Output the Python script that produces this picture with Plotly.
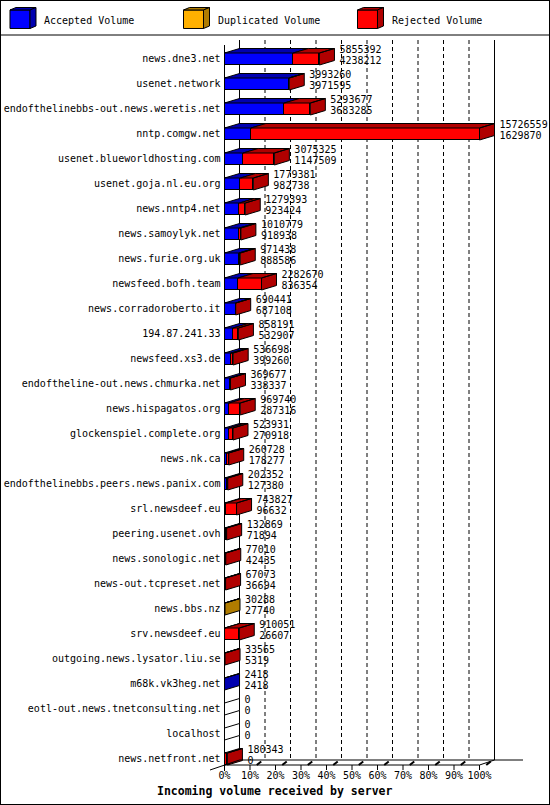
import plotly.graph_objects as go

# ── Data ──────────────────────────────────────────────────────────────────────
SERVERS = [
    "news.dne3.net", "usenet.network", "endofthelinebbs-out.news.weretis.net",
    "nntp.comgw.net", "usenet.blueworldhosting.com", "usenet.goja.nl.eu.org",
    "news.nntp4.net", "news.samoylyk.net", "news.furie.org.uk",
    "newsfeed.bofh.team", "news.corradoroberto.it", "194.87.241.33",
    "newsfeed.xs3.de", "endoftheline-out.news.chmurka.net", "news.hispagatos.org",
    "glockenspiel.complete.org", "news.nk.ca", "endofthelinebbs.peers.news.panix.com",
    "srl.newsdeef.eu", "peering.usenet.ovh", "news.sonologic.net",
    "news-out.tcpreset.net", "news.bbs.nz", "srv.newsdeef.eu",
    "outgoing.news.lysator.liu.se", "m68k.vk3heg.net", "eotl-out.news.tnetconsulting.net",
    "localhost", "news.netfront.net",
]
TOTAL = [
    5855392, 3993260, 5293677, 15726559, 3075325, 1779381, 1279393, 1010779,
    971438, 2282670, 690441, 858191, 536698, 369677, 969740, 523931, 260728,
    202352, 743827, 132869, 77010, 67073, 30288, 910051, 33565, 2418, 0, 0, 180343,
]
ACCEPTED = [
    4238212, 3971595, 3683285, 1629870, 1147509, 982738, 923424, 918938,
    888586, 836354, 687108, 532907, 399260, 338337, 287316, 270918, 178277,
    127380, 96632, 71894, 42435, 36694, 27740, 26607, 5319, 2418, 0, 0, 0,
]
DUPLICATED = [0] * 22 + [2548] + [0] * 6
REJECTED = [t - a - d for t, a, d in zip(TOTAL, ACCEPTED, DUPLICATED)]
PCT_TICKS = [0, 10, 20, 30, 40, 50, 60, 70, 80, 90, 100]
PCT_LABELS = [f"{p}%" for p in PCT_TICKS]

# ── Geometry / style ─────────────────────────────────────────────────────────
W, H = 550, 805
X0, SX = 224.5, 2.55      # pixel of 0 %, pixels per %
Y0, ROW = 59, 25          # pixel of first row centre, pixels per row
DX = 15 / SX              # 3D depth in % units
DY = -4.5 / ROW           # 3D depth in row units (up)
BAR_H = 12 / ROW
FONT = "DejaVu Sans Mono"

SERIES = [
    ("Accepted Volume", ACCEPTED, "#0000ff", "#0000b0"),
    ("Duplicated Volume", DUPLICATED, "#ffb000", "#b07c00"),
    ("Rejected Volume", REJECTED, "#ff0000", "#b00000"),
]

def xp(px):
    return (px - X0) / SX

def yr(py):
    return (py - Y0) / ROW

def add_poly(xs, ys, pts):
    for x, y in pts + [pts[0]]:
        xs.append(x)
        ys.append(y)
    xs.append(None)
    ys.append(None)

vmax = max(TOTAL)
rows = list(range(len(SERVERS)))

fig = go.Figure()

# Front faces
for name, vals, front, dark in SERIES:
    fig.add_trace(go.Bar(
        x=[v / vmax * 100 for v in vals], y=rows, orientation="h",
        width=BAR_H, marker=dict(color=front, line=dict(color="black", width=1)),
        name=name, showlegend=False, cliponaxis=False,
    ))

# Top and side faces
faces = {}
for i in rows:
    yt, yb = i - BAR_H / 2, i + BAR_H / 2
    start, last_dark = 0.0, "#ffffff"
    for name, vals, front, dark in SERIES:
        w = vals[i] / vmax * 100
        if w <= 0:
            continue
        xs, ys = faces.setdefault(dark, ([], []))
        add_poly(xs, ys, [(start, yt), (start + w, yt), (start + w + DX, yt + DY), (start + DX, yt + DY)])
        start += w
        last_dark = dark
    xs, ys = faces.setdefault(last_dark, ([], []))
    add_poly(xs, ys, [(start, yt), (start + DX, yt + DY), (start + DX, yb + DY), (start, yb)])

for color, (xs, ys) in faces.items():
    fig.add_trace(go.Scatter(
        x=xs, y=ys, mode="lines", fill="toself", fillcolor=color,
        line=dict(color="black", width=1), hoverinfo="skip", showlegend=False,
    ))

# Value labels: total on top, accepted below
ends = [t / vmax * 100 + DX + 5 / SX for t in TOTAL]
fig.add_trace(go.Scatter(
    x=ends, y=[i - 9 / ROW for i in rows], mode="text", text=[str(v) for v in TOTAL],
    textposition="middle right", textfont=dict(family=FONT, size=10, color="black"),
    cliponaxis=False, showlegend=False, hoverinfo="skip",
))
fig.add_trace(go.Scatter(
    x=ends, y=[i + 2 / ROW for i in rows], mode="text", text=[str(v) for v in ACCEPTED],
    textposition="middle right", textfont=dict(family=FONT, size=10, color="black"),
    cliponaxis=False, showlegend=False, hoverinfo="skip",
))

# Server names
fig.add_trace(go.Scatter(
    x=[xp(220.5)] * len(SERVERS), y=rows, mode="text", text=SERVERS,
    textposition="middle left", textfont=dict(family=FONT, size=10, color="black"),
    cliponaxis=False, showlegend=False, hoverinfo="skip",
))

# Percentage axis labels
fig.add_trace(go.Scatter(
    x=PCT_TICKS, y=[yr(776)] * len(PCT_TICKS), mode="text", text=PCT_LABELS,
    textposition="middle center", textfont=dict(family=FONT, size=10, color="black"),
    cliponaxis=False, showlegend=False, hoverinfo="skip",
))

# Walls, floor and grid
shapes = []
line = dict(color="black", width=1)
for p in PCT_TICKS[1:-1]:
    shapes.append(dict(type="line", x0=p + DX, x1=p + DX, y0=yr(40), y1=yr(760),
                       line=dict(color="black", width=1, dash="4px,3px"), layer="below"))
for p in PCT_TICKS[1:]:
    shapes.append(dict(type="line", x0=p, x1=p, y0=yr(765), y1=yr(770), line=line))
    shapes.append(dict(type="line", x0=p + DX * 0.45, x1=p + DX * 0.75, y0=yr(765), y1=yr(761.5), line=dict(color="black", width=2)))
shapes += [
    dict(type="line", x0=DX, x1=DX, y0=yr(40), y1=yr(760), line=line, layer="below"),
    dict(type="line", x0=100 + DX, x1=100 + DX, y0=yr(40), y1=yr(760), line=line, layer="below"),
    dict(type="line", x0=0, x1=0, y0=yr(45), y1=yr(771), line=line),
    dict(type="line", x0=DX, x1=xp(523), y0=yr(760), y1=yr(760), line=line),
    dict(type="line", x0=0, x1=100, y0=yr(765), y1=yr(765), line=line),
    dict(type="line", x0=100, x1=100 + DX, y0=yr(765), y1=yr(760), line=line),
    dict(type="line", x0=xp(210), x1=DX, y0=yr(770), y1=yr(760), line=line),
]
for s in shapes:
    s.setdefault("xref", "x")
    s.setdefault("yref", "y")

# Frame and legend (paper coords = pixels)
def pp(x, y):
    return x / W, 1 - y / H

def paper_path(pts):
    d = "M " + " L ".join(f"{x / W:.5f},{1 - y / H:.5f}" for x, y in pts) + " Z"
    return d

shapes.append(dict(type="rect", xref="paper", yref="paper", x0=0, x1=1, y0=0, y1=1,
                   line=dict(color="black", width=2)))
shapes.append(dict(type="line", xref="paper", yref="paper", x0=0, x1=1,
                   y0=pp(0, 35)[1], y1=pp(0, 35)[1], line=line))

annotations = []
for (name, vals, front, dark), lx in zip(SERIES, [10, 183.5, 357.5]):
    fx0, fx1, fy0, fy1, d, e = lx, lx + 20, 10, 28.5, 6, 2.5
    shapes.append(dict(type="path", xref="paper", yref="paper", fillcolor=front, line=line,
                       path=paper_path([(fx0, fy0), (fx1, fy0), (fx1, fy1), (fx0, fy1)])))
    shapes.append(dict(type="path", xref="paper", yref="paper", fillcolor=dark, line=line,
                       path=paper_path([(fx0, fy0), (fx0 + d, fy0 - e), (fx1 + d, fy0 - e), (fx1, fy0)])))
    shapes.append(dict(type="path", xref="paper", yref="paper", fillcolor=dark, line=line,
                       path=paper_path([(fx1, fy0), (fx1 + d, fy0 - e), (fx1 + d, fy1 - e), (fx1, fy1)])))
    ax, ay = pp(lx + 32, 20)
    annotations.append(dict(text=name, xref="paper", yref="paper", x=ax, y=ay,
                            xanchor="left", yanchor="middle", showarrow=False,
                            font=dict(family=FONT, size=10, color="black")))

tx, ty = pp(274, 791)
annotations.append(dict(text="<b>Incoming volume received by server</b>", xref="paper", yref="paper",
                        x=tx, y=ty, xanchor="center", yanchor="middle", showarrow=False,
                        font=dict(family=FONT, size=11.5, color="black")))

fig.update_layout(
    width=W, height=H,
    margin=dict(l=0, r=0, t=0, b=0),
    paper_bgcolor="white", plot_bgcolor="white",
    barmode="stack", bargap=0,
    showlegend=False,
    xaxis=dict(range=[xp(0), xp(W)], visible=False, fixedrange=True),
    yaxis=dict(range=[yr(H), yr(0)], visible=False, fixedrange=True),
    shapes=shapes, annotations=annotations,
)

# page body margin would push the 550x805 figure out of the window
fig.write_html("out.html", config={"displayModeBar": False},
               post_script="document.body.style.margin = '0';")
